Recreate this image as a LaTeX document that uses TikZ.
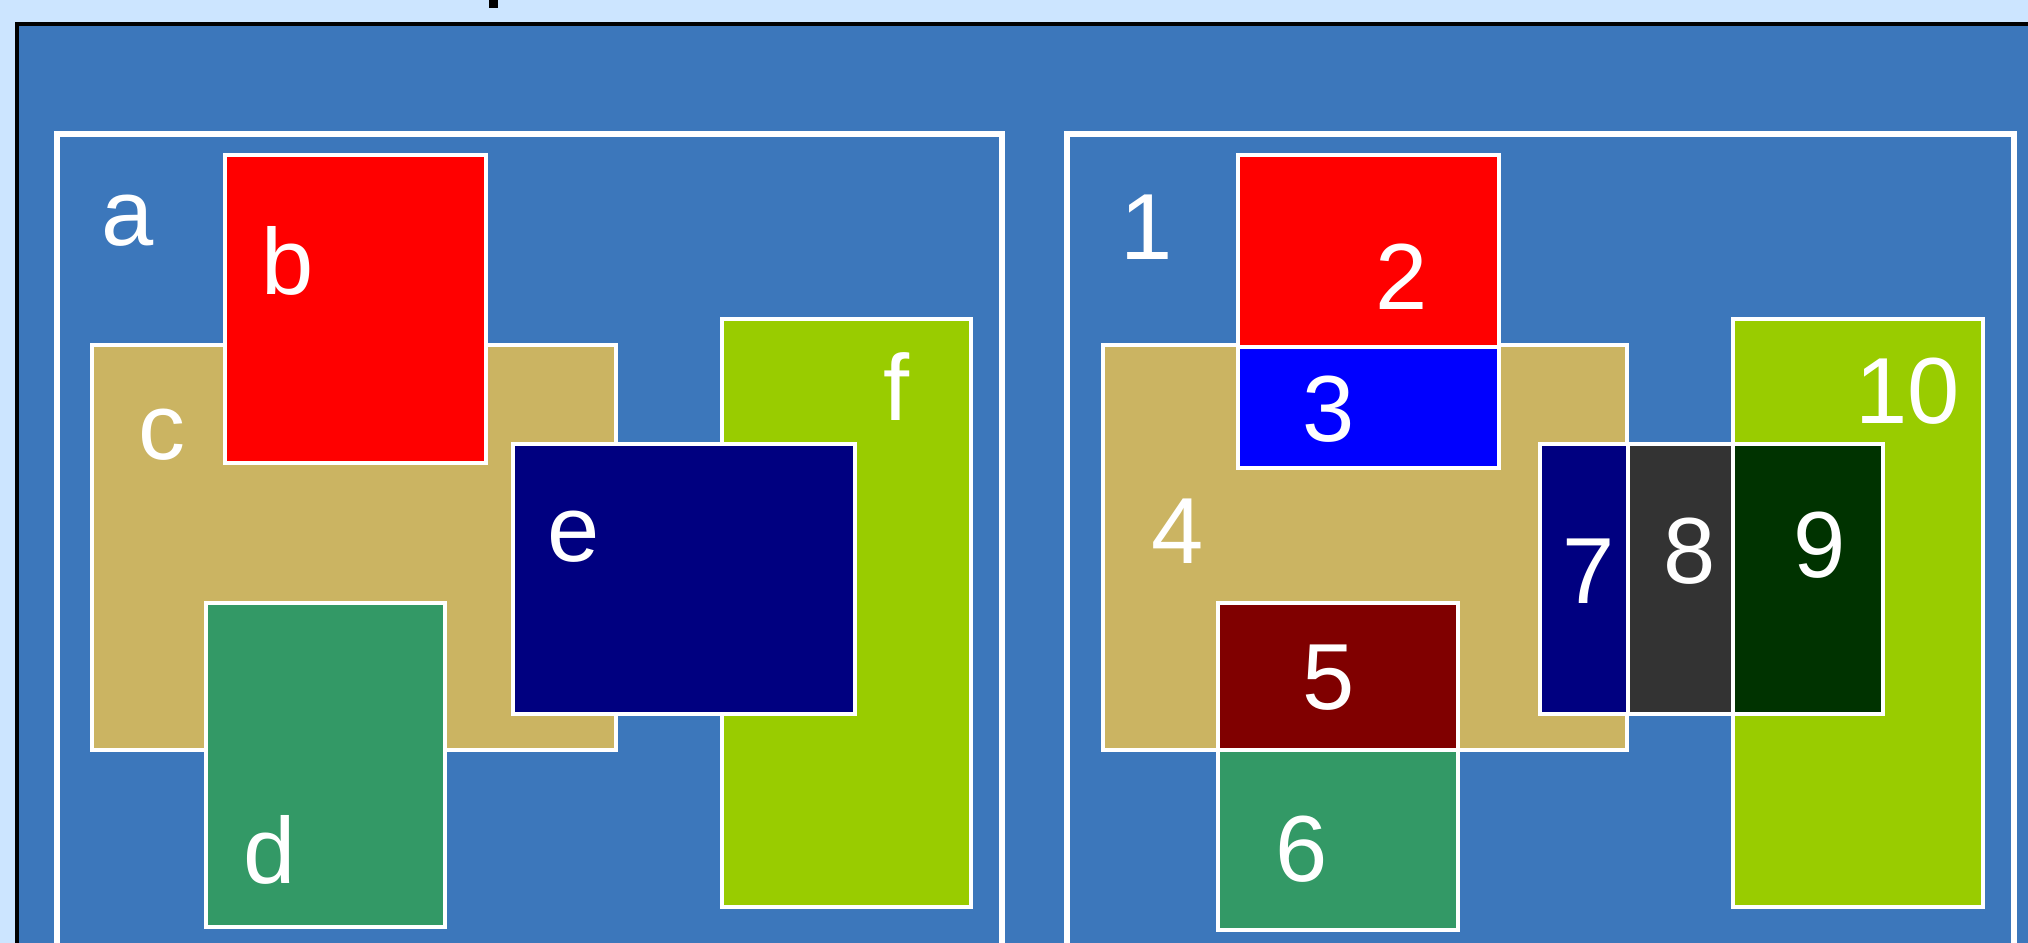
\documentclass[tikz,border=0pt]{standalone}
\usepackage{fontspec}
\setmainfont{Liberation Sans}
\usepackage{tikz}
\definecolor{sky-bg}{RGB}{204,229,255}
\definecolor{panel-blue}{RGB}{60,119,187}
\definecolor{box-tan}{RGB}{203,180,98}
\definecolor{box-green}{RGB}{51,153,102}
\definecolor{box-lime}{RGB}{153,204,0}
\definecolor{box-navy}{RGB}{0,0,128}
\definecolor{box-maroon}{RGB}{128,0,0}
\definecolor{box-grey}{RGB}{51,51,51}
\definecolor{box-dkgreen}{RGB}{0,51,0}

\tikzset{
  box/.style={draw=white, line width=1pt},
  frame/.style={draw=white, line width=1.8pt},
  lbl/.style={text=white, anchor=base west, inner sep=0pt,
              font=\fontsize{26.7}{30}\selectfont}
}

\begin{document}
\begin{tikzpicture}[x=0.01cm, y=-0.01cm]

\useasboundingbox (0,0) rectangle (2028,943);
\clip (0,0) rectangle (2028,943);

% Page
\fill[sky-bg] (0,0) rectangle (2028,943);
\fill[black] (489,0) rectangle (498,8);
\draw[black, line width=1.2pt, fill=panel-blue] (17,24) rectangle (2060,980);

% Left panel
\draw[frame] (57,134) rectangle (1002,990);
\draw[box, fill=box-tan]   (92,345)  rectangle (616,750);
\draw[box, fill=red]       (225,155) rectangle (486,463);
\draw[box, fill=box-green] (206,603) rectangle (445,927);
\draw[box, fill=box-lime]  (722,319) rectangle (971,907);
\draw[box, fill=box-navy]  (513,444) rectangle (855,714);

\node[lbl] (la) at (101,246) {a};
\node[lbl] (lb) at (261,295) {b};
\node[lbl] (lc) at (138,459) {c};
\node[lbl] (ld) at (243,883) {d};
\node[lbl] (le) at (547,561) {e};
\node[lbl] (lf) at (883,420) {f};

% Right panel
\draw[frame] (1067,134) rectangle (2014,990);
\draw[box, fill=box-tan]     (1103,345) rectangle (1627,750);
\draw[box, fill=red]         (1238,155) rectangle (1499,347);
\draw[box, fill=blue]        (1238,347) rectangle (1499,468);
\draw[box, fill=box-maroon]  (1218,603) rectangle (1458,750);
\draw[box, fill=box-green]   (1218,750) rectangle (1458,930);
\draw[box, fill=box-lime]    (1733,319) rectangle (1983,907);
\draw[box, fill=box-navy]    (1540,444) rectangle (1628,714);
\draw[box, fill=box-grey]    (1628,444) rectangle (1733,714);
\draw[box, fill=box-dkgreen] (1733,444) rectangle (1883,714);

\node[lbl] (l1)  at (1120,260) {1};
\node[lbl] (l2)  at (1375,310) {2};
\node[lbl] (l3)  at (1302,442) {3};
\node[lbl] (l4)  at (1151,563) {4};
\node[lbl] (l5)  at (1302,709) {5};
\node[lbl] (l6)  at (1275,881) {6};
\node[lbl] (l7)  at (1562,603) {7};
\node[lbl] (l8)  at (1663,583) {8};
\node[lbl] (l9)  at (1793,577) {9};
\node[lbl] (l10) at (1855,423) {10};

\end{tikzpicture}
\end{document}
